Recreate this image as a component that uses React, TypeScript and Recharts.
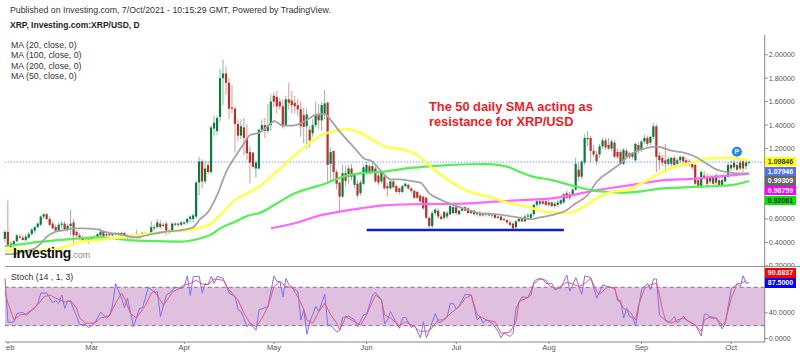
import React from 'react';
import { ComposedChart, Bar, Line, XAxis, YAxis, ReferenceLine, ReferenceArea, ReferenceDot } from 'recharts';

type Ohlc = [number, number, number, number];

// daily candles as open, high, low, close
const febCandles: Ohlc[] = [
  [.43,.50,.40,.49],[.49,.755,.36,.37],[.39,.41,.35,.36],[.37,.42,.35,.41],[.41,.47,.40,.46],[.45,.47,.43,.44],[.44,.46,.42,.42],[.42,.47,.41,.45],
  [.44,.49,.43,.47],[.47,.52,.46,.51],[.50,.54,.48,.53],[.53,.57,.52,.56],[.55,.63,.54,.62],[.62,.65,.60,.64],[.64,.65,.59,.60],[.60,.62,.54,.55],
  [.56,.58,.51,.52],[.53,.55,.49,.50],[.50,.57,.49,.55],[.55,.58,.52,.56],[.56,.58,.50,.51],[.51,.56,.49,.54],[.54,.68,.46,.56],[.57,.60,.37,.46],
  [.49,.50,.44,.46],[.46,.48,.42,.44],[.44,.46,.41,.42],[.42,.44,.40,.41],[.41,.44,.39,.43],
];
const marCandles: Ohlc[] = [
  [.42,.45,.41,.44],[.44,.46,.43,.45],[.44,.48,.43,.47],[.46,.52,.45,.49],[.49,.50,.44,.45],[.46,.48,.45,.47],[.47,.49,.46,.46],[.46,.48,.45,.47],
  [.47,.49,.46,.48],[.48,.49,.46,.47],[.47,.49,.46,.48],[.48,.49,.46,.46],[.46,.47,.43,.44],[.45,.46,.43,.44],[.44,.46,.43,.45],[.45,.51,.43,.44],
  [.44,.47,.43,.46],[.46,.49,.45,.48],[.48,.49,.46,.47],[.47,.48,.46,.47],[.47,.58,.46,.53],[.52,.55,.50,.53],[.53,.60,.52,.57],[.56,.59,.52,.53],
  [.54,.57,.53,.55],[.56,.58,.46,.49],[.49,.52,.47,.50],[.50,.57,.49,.56],[.56,.57,.54,.55],[.55,.57,.53,.56],[.55,.58,.54,.57],
];
const aprCandles: Ohlc[] = [
  [.56,.58,.55,.57],[.57,.61,.55,.60],[.60,.63,.57,.62],[.60,.65,.57,.63],[.62,.93,.60,.91],[.91,1.13,.80,1.09],[1.09,1.11,.86,.92],[.92,1.10,.90,1.03],
  [1.06,1.09,.98,1.00],[1.00,1.40,.98,1.38],[1.37,1.48,1.31,1.42],[1.35,1.48,1.32,1.46],[1.47,1.88,1.43,1.80],[1.80,1.96,1.57,1.84],[1.84,1.90,1.66,1.76],
  [1.76,1.80,1.45,1.54],[1.55,1.74,1.50,1.54],[1.54,1.56,1.17,1.41],[1.41,1.45,1.26,1.31],[1.31,1.45,1.28,1.39],[1.38,1.46,1.145,1.29],[1.29,1.41,1.10,1.16],
  [1.17,1.22,.90,1.08],[1.165,1.17,1.03,1.045],[1.03,1.10,.95,1.08],[1.03,1.37,1.02,1.36],[1.36,1.45,1.34,1.40],[1.40,1.46,1.29,1.35],[1.35,1.58,1.33,1.40],[1.40,1.66,1.35,1.60],
];
const mayCandles: Ohlc[] = [
  [1.65,1.68,1.55,1.60],[1.64,1.69,1.50,1.56],[1.60,1.63,1.53,1.56],[1.56,1.62,1.37,1.39],[1.40,1.65,1.39,1.62],[1.62,1.76,1.53,1.59],[1.61,1.69,1.50,1.57],[1.59,1.65,1.50,1.56],
  [1.57,1.62,1.48,1.535],[1.535,1.60,1.30,1.39],[1.485,1.55,1.245,1.385],[1.39,1.54,1.20,1.49],[1.36,1.39,1.21,1.27],[1.33,1.45,1.30,1.40],[1.40,1.60,1.38,1.485],[1.485,1.58,1.37,1.44],
  [1.44,1.60,1.35,1.57],[1.49,1.70,1.45,1.585],[1.59,1.60,.91,1.06],[1.07,1.21,.92,1.17],[1.18,1.18,.94,1.00],[1.00,1.02,.85,.90],[.91,.92,.65,.79],[.79,1.06,.78,.99],
  [.99,1.05,.88,.925],[.96,1.06,.90,1.03],[1.03,1.07,.93,.96],[.89,.98,.86,.975],[.90,.93,.78,.80],[.82,.93,.80,.91],[.90,1.06,.89,1.04],
];
const junCandles: Ohlc[] = [
  [1.00,1.09,.98,1.06],[1.05,1.07,.98,1.00],[1.00,1.08,.99,1.05],[1.03,1.05,.91,.92],[.97,.99,.89,.91],[.92,1.00,.90,.99],[.96,.98,.85,.86],[.88,.91,.79,.86],
  [.86,.93,.85,.92],[.92,.93,.86,.87],[.88,.89,.82,.83],[.86,.87,.81,.83],[.83,.89,.82,.88],[.88,.91,.87,.90],[.89,.90,.85,.86],[.86,.87,.82,.84],
  [.84,.85,.77,.78],[.83,.84,.77,.78],[.80,.81,.74,.75],[.79,.80,.68,.69],[.78,.79,.60,.61],[.61,.62,.52,.54],[.54,.67,.52,.65],[.65,.69,.63,.68],
  [.67,.69,.60,.62],[.62,.64,.59,.60],[.61,.67,.59,.66],[.65,.67,.60,.62],[.64,.72,.63,.71],[.65,.72,.64,.70],
];
const julCandles: Ohlc[] = [
  [.70,.71,.63,.65],[.64,.68,.63,.67],[.67,.70,.66,.69],[.70,.71,.67,.67],[.69,.70,.64,.65],[.65,.68,.64,.67],[.67,.68,.63,.64],[.64,.66,.62,.65],
  [.65,.67,.62,.63],[.63,.65,.62,.64],[.64,.66,.62,.65],[.64,.66,.62,.63],[.63,.65,.61,.64],[.64,.65,.60,.61],[.61,.63,.60,.62],[.62,.63,.58,.59],
  [.60,.61,.58,.59],[.59,.60,.56,.57],[.57,.59,.54,.55],[.56,.57,.51,.52],[.53,.59,.51,.58],[.58,.62,.57,.60],[.60,.62,.57,.58],[.58,.64,.57,.62],
  [.62,.65,.60,.63],[.61,.65,.59,.64],[.64,.73,.62,.72],[.72,.77,.70,.75],[.73,.77,.71,.75],[.75,.77,.72,.73],[.75,.77,.71,.72],
];
const augCandles: Ohlc[] = [
  [.74,.76,.70,.72],[.71,.75,.70,.74],[.73,.75,.69,.71],[.72,.76,.70,.74],[.73,.77,.72,.76],[.74,.82,.73,.81],[.82,.84,.77,.78],[.81,.83,.76,.78],
  [.81,.86,.80,.85],[.85,1.12,.84,1.07],[1.02,1.08,.92,.96],[.96,1.10,.94,1.09],[1.08,1.32,1.06,1.29],[1.28,1.35,1.22,1.29],[1.29,1.31,1.08,1.18],[1.18,1.23,1.13,1.15],
  [1.15,1.18,1.06,1.09],[1.15,1.24,1.12,1.22],[1.22,1.29,1.20,1.27],[1.27,1.29,1.19,1.21],[1.23,1.29,1.19,1.20],[1.20,1.28,1.18,1.26],[1.25,1.27,1.12,1.13],[1.17,1.20,1.11,1.13],
  [1.17,1.19,1.06,1.07],[1.07,1.20,1.06,1.19],[1.18,1.20,1.12,1.13],[1.13,1.17,1.11,1.16],[1.16,1.17,1.11,1.13],[1.10,1.25,1.09,1.24],[1.23,1.25,1.16,1.18],
];
const sepCandles: Ohlc[] = [
  [1.19,1.27,1.17,1.26],[1.26,1.32,1.24,1.29],[1.29,1.31,1.22,1.24],[1.25,1.31,1.23,1.30],[1.30,1.42,1.28,1.39],[1.39,1.41,1.00,1.13],[1.14,1.17,1.02,1.10],[1.12,1.15,1.05,1.08],
  [1.10,1.24,1.00,1.07],[1.07,1.13,1.05,1.11],[1.07,1.13,1.03,1.12],[1.12,1.14,1.04,1.06],[1.07,1.12,1.05,1.10],[1.10,1.14,1.08,1.13],[1.13,1.14,1.07,1.09],[1.10,1.12,1.05,1.07],
  [1.09,1.11,1.05,1.06],[1.08,1.09,1.02,1.04],[1.06,1.07,.89,.90],[.93,.95,.86,.87],[.87,1.02,.86,1.00],[.97,1.01,.93,.95],[.96,.99,.88,.90],[.92,.98,.90,.95],
  [.95,.97,.89,.90],[.91,.99,.88,.97],[.93,.96,.88,.89],[.89,.96,.88,.93],[.92,.97,.91,.96],[.96,1.08,.95,1.06],
];
const octCandles: Ohlc[] = [
  [1.06,1.10,1.01,1.03],[1.04,1.11,1.02,1.08],[1.06,1.09,1.01,1.02],[1.03,1.11,1.01,1.08],[1.09,1.11,1.00,1.03],[1.05,1.10,1.02,1.08],[1.08,1.10,1.06,1.085],
];

// moving averages as [day, value], day 0 is 1 Feb
const ma20: number[][] = [
  [-1,.30],[2,.30],[5,.32],[9,.349],[11,.392],[13,.448],[16,.491],[19,.505],[22,.519],[25,.519],[30,.511],[32,.491],[35,.477],[40,.454],[43,.443],[48,.471],[53,.491],[60,.514],[62,.528],[64,.59],[67,.661],[70,.804],[73,1.002],[76,1.13],[79,1.244],[81,1.315],[84,1.335],[88,1.415],
  [89,1.435],[92,1.395],[95,1.395],[98,1.415],[100,1.443],[103,1.486],[106,1.495],[108,1.443],[111,1.344],[114,1.259],[117,1.174],[119,1.117],[122,1.088],[124,1.031],[126,.975],[128,.938],[131,.938],[134,.926],[138,.909],[141,.818],[145,.761],[149,.719],[154,.676],[158,.648],[164,.639],[169,.619],[175,.599],
  [178,.613],[182,.633],[187,.676],[190,.733],[194,.804],[197,.917],[202,1.017],[205,1.074],[208,1.145],[212,1.193],[217,1.216],[222,1.182],[227,1.159],[230,1.13],[234,1.068],[237,1.022],[241,.997],[244,.988],[248,.988],
];
const ma50: number[][] = [
  [-1,.33],[9,.33],[15,.335],[23,.397],[35,.434],[44,.463],[53,.491],[62,.511],[68,.562],[71,.633],[76,.761],[80,.818],[84,.875],[88,.96],[96,1.145],[100,1.23],[105,1.316],[110,1.353],[113,1.364],[118,1.335],[122,1.273],[127,1.21],[132,1.193],[137,1.145],[142,1.031],[149,.904],[156,.818],[161,.79],[167,.739],[175,.696],
  [180,.659],[187,.65],[191,.681],[196,.761],[202,.832],[207,.846],[212,.903],[218,.988],[224,1.051],[229,1.079],[235,1.116],[241,1.119],[248,1.102],
];
const ma100: number[][] = [
  [-1,.369],[4,.383],[11,.406],[20,.426],[30,.443],[40,.42],[49,.411],[58,.406],[62,.42],[68,.468],[71,.519],[76,.576],[81,.633],[84,.648],[90,.733],[96,.818],[101,.861],[107,.909],[112,.96],[118,.989],[126,1.003],[131,1.023],[140,1.046],[146,1.057],[154,1.066],[161,1.068],[167,1.046],[171,1.003],[175,.965],
  [182,.931],[188,.889],[195,.846],[200,.832],[206,.823],[212,.835],[219,.86],[225,.866],[231,.875],[239,.883],[244,.897],[248,.923],
];
const ma200: number[][] = [
  [88,.52],[96,.563],[105,.634],[111,.662],[118,.69],[126,.716],[135,.725],[144,.727],[154,.733],[163,.747],[175,.764],[182,.775],[189,.804],[197,.846],[205,.875],[212,.903],[220,.931],[228,.94],[237,.96],[248,.985],
];

// stochastic oscillator as [day, value]
const stochK: number[][] = [
  [-1,94],[0,25],[2,26],[3,39],[5,41],[6,36],[9,48],[10,55],[11,71],[13,71],[14,63],[15,56],[16,59],[17,55],[18,68],[19,47],[20,59],[21,57],[23,34],[24,22],[26,22],[27,17],[29,24],[31,41],[33,32],[34,36],[35,52],[36,86],[38,63],[39,48],[40,63],[42,18.5],[44,47],[45,48],[47,80],[49,72],[50,73],[51,34],[53,68],[54,71],[56,80],[58,78],[59,81],[60,98],[61,67],[62,97],[64,97],[65,71],[66,86],[67,84],[68,97],[69,86],[70,97],[72,94],[74,71],[76,65],[77,45],[78,42],[80,18.5],[81,24],[83,13],[84,45],[86,48],[87,50],
  [89,98],[90,89],[91,89],[92,65],[93,94],[94,84],[97,73],[98,29],[99,45],[100,6.5],[101,26],[103,50],[104,42],[106,69],[107,21],[108,21],[110,10],[111,13],[112,33],[114,35],[116,29],[117,18.5],[119,37],[120,38],[122,68],[123,72],[125,60],[126,23],[127,29],[128,42],[130,24],[131,16],[132,32],[133,33],[135,17],[136,21],[138,1],[139,26],[140,1],[141,13],[143,39],[144,25],[145,26],[147,35],[148,55],[149,55],[150,46],[151,52],[153,69],[155,68],[157,29],[158,34],[159,24],[160,29],[162,24],[164,11],[165,1],[166,9],[168,3],[169,8],[170,47],[172,65],[174,64],[175,68],[176,89],
  [177,93],[179,93],[180,86],[182,86],[183,76],[184,78],[185,79],[187,99],[188,74],[190,95],[192,69],[193,98],[195,95],[197,63],[198,73],[199,84],[201,80],[203,79],[204,59],[205,59],[206,32],[207,47],[208,34],[209,33],[210,20],[212,76],[214,86],[215,76],[216,93],[217,93],[218,37],[219,32],[221,24],[223,34],[224,24],[226,35],[227,29],[229,24],[230,21],[232,4],[233,38],[234,38],[235,32],[237,32],[239,15],[240,24],[242,78],[244,85],[245,81],[246,98],[247,86],[248,87.5],
];
const stochD: number[][] = [
  [-1,73],[0,55],[2,29],[4,37],[6,38],[8,45],[10,53],[12,65],[14,68],[16,63],[19,57],[21,59],[23,47],[24,32],[26,24],[29,24],[31,32],[34,36],[36,55],[38,71],[39,63],[41,39],[43,32],[44,39],[46,52],[48,71],[49,74],[51,60],[52,52],[54,65],[55,73],[57,77],[59,84],[61,86],[63,91],[65,85],[67,84],[69,93],[72,91],[74,76],[77,60],[79,39],[81,24],[83,18.5],[85,32],[87,50],
  [89,81],[91,89],[93,81],[95,80],[97,65],[99,45],[100,29],[102,24],[104,42],[106,55],[108,37],[110,24],[111,13],[113,34],[116,26],[118,21],[120,37],[122,58],[123,68],[125,60],[126,37],[128,32],[131,20],[133,26],[136,18.5],[138,11],[141,12],[144,29],[146,29],[148,39],[151,50],[153,63],[155,68],[157,37],[160,29],[163,26],[165,8],[168,10],[170,26],[171,58],[174,64],[176,86],
  [178,93],[180,91],[181,83],[183,78],[185,81],[187,88],[189,85],[191,81],[193,86],[195,94],[197,73],[198,69],[200,78],[201,81],[203,78],[204,63],[206,47],[208,42],[210,29],[211,52],[213,78],[215,84],[217,86],[218,68],[219,45],[220,29],[222,24],[224,29],[226,32],[228,26],[230,21],[232,11],[233,29],[235,34],[237,32],[239,21],[240,26],[242,63],[244,86],[245,86],[247,90],
];

const monthTicks = [0, 28, 59, 89, 120, 150, 181, 212, 242];
const monthLabels = ['Feb', 'Mar', 'Apr', 'May', 'Jun', 'Jul', 'Aug', 'Sep', 'Oct'];
// 0.8, 1.0 and the stoch 80 sit behind the price tags in the picture
const priceTicks = [0.2, 0.4, 0.6, 1.2, 1.4, 1.6, 1.8, 2.0];
const stochTicks = [0, 40];
const maLegend = ['MA (20, close, 0)', 'MA (100, close, 0)', 'MA (200, close, 0)', 'MA (50, close, 0)'];

const lastPrice = 1.085;
const supportLevel = 0.505;
const supportDays = [120, 186];

const candleRows = [...febCandles, ...marCandles, ...aprCandles, ...mayCandles, ...junCandles, ...julCandles, ...augCandles, ...sepCandles, ...octCandles]
  .map(([o, h, l, c], idx) => ({ day: idx - 1, open: o, high: h, low: l, close: c, range: [l, h] }));

const toPoints = (list: number[][], key: string) => list.map(([day, v]) => ({ day, [key]: v }));

const dayDomain: [number, number] = [-0.84, 253.2];
const GREEN = '#0b7a3e';
const RED = '#b0342a';
const FONT = '"Liberation Sans", Arial, sans-serif';

// wick plus body, the bar itself spans low to high
const Candle = (props: any) => {
  const { x, y, width, height, payload } = props;
  const { open, high, low, close } = payload;
  const cx = x + width / 2;
  const perUnit = height / (high - low || 1);
  const top = y + (high - Math.max(open, close)) * perUnit;
  const bodyH = Math.max(Math.abs(open - close) * perUnit, 1);
  const color = close >= open ? GREEN : RED;
  return (
    <g>
      <line x1={cx} x2={cx} y1={y} y2={y + height} stroke={color} strokeOpacity={0.5} strokeWidth={1} />
      <rect x={cx - 1.1} y={top} width={2.2} height={bodyH} fill={color} />
    </g>
  );
};

const base: React.CSSProperties = { position: 'absolute', fontFamily: FONT, whiteSpace: 'nowrap', lineHeight: 1 };

const priceTags = [
  { text: '1.09846', top: 156.5, bg: '#ffff00', color: '#333' },
  { text: '1.07946', top: 166.5, bg: '#4f74e3', color: '#fff' },
  { text: '0.99309', top: 176, bg: '#666666', color: '#fff' },
  { text: '0.98759', top: 185.7, bg: '#ff00ff', color: '#fff' },
  { text: '0.92061', top: 195.5, bg: '#00e600', color: '#222' },
  { text: '90.6837', top: 268, bg: '#ff0000', color: '#fff' },
  { text: '87.5000', top: 278, bg: '#0000ff', color: '#fff' },
];

export default function App() {
  return (
    <div style={{ position: 'absolute', left: 0, top: 0, width: 800, height: 357, background: '#fff', overflow: 'hidden' }}>
      <div style={{ position: 'absolute', left: 0, top: 0 }}>
        <ComposedChart width={800} height={267} data={candleRows} margin={{ top: 35, right: 0, bottom: 1.16, left: 5 }}>
          <XAxis dataKey="day" type="number" domain={dayDomain} hide />
          <YAxis
            orientation="right"
            width={35.3}
            domain={[0.2, 2.168]}
            ticks={priceTicks}
            interval={0}
            tickFormatter={(v: number) => v.toFixed(5)}
            tick={{ fill: '#555', fontSize: 7.2, fontFamily: FONT }}
            tickSize={3}
            tickMargin={1}
            stroke="#888"
          />
          <ReferenceLine y={lastPrice} stroke="#3f6fe8" strokeDasharray="1 2" />
          <Bar dataKey="range" barSize={3} shape={<Candle />} isAnimationActive={false} />
          <Line data={toPoints(ma200, 'v')} dataKey="v" type="monotone" stroke="#ff66ff" strokeWidth={2.2} dot={false} isAnimationActive={false} />
          <Line data={toPoints(ma100, 'v')} dataKey="v" type="monotone" stroke="#55ee55" strokeWidth={2.2} dot={false} isAnimationActive={false} />
          <Line data={toPoints(ma50, 'v')} dataKey="v" type="monotone" stroke="#ffff4d" strokeWidth={2.6} dot={false} isAnimationActive={false} />
          <Line data={toPoints(ma20, 'v')} dataKey="v" type="monotone" stroke="#a3a3a3" strokeWidth={1.8} dot={false} isAnimationActive={false} />
          <ReferenceLine
            segment={[{ x: supportDays[0], y: supportLevel }, { x: supportDays[1], y: supportLevel }]}
            stroke="#0a1fd0"
            strokeWidth={2.4}
          />
          <ReferenceDot
            x={243.9}
            y={1.173}
            r={5}
            fill="#1e88e5"
            stroke="none"
            label={{ value: 'P', position: 'center', fill: '#fff', fontSize: 7, fontWeight: 700, fontFamily: FONT }}
          />
        </ComposedChart>
      </div>

      <div style={{ position: 'absolute', left: 0, top: 266 }}>
        <ComposedChart width={800} height={91} data={candleRows} margin={{ top: 1, right: 0, bottom: 0, left: 5 }}>
          <XAxis
            dataKey="day"
            type="number"
            domain={dayDomain}
            ticks={monthTicks}
            interval={0}
            tickFormatter={(d: number) => monthLabels[monthTicks.indexOf(d)]}
            tick={{ fill: '#555', fontSize: 7.5, fontFamily: FONT }}
            tickSize={2}
            tickMargin={1}
            height={15}
            stroke="#888"
          />
          <YAxis
            orientation="right"
            width={35.3}
            domain={[-5.47, 111.7]}
            ticks={stochTicks}
            interval={0}
            tickFormatter={(v: number) => v.toFixed(4)}
            tick={{ fill: '#555', fontSize: 7.2, fontFamily: FONT }}
            tickSize={3}
            tickMargin={1}
            stroke="#888"
          />
          <ReferenceArea y1={20} y2={80} fill="#dfc1df" fillOpacity={1} stroke="none" />
          <ReferenceLine y={80} stroke="#8d6d8d" strokeDasharray="4 3" />
          <ReferenceLine y={20} stroke="#8d6d8d" strokeDasharray="4 3" />
          <Line data={toPoints(stochK, 'k')} dataKey="k" type="linear" stroke="#7a72f5" strokeWidth={1} dot={false} isAnimationActive={false} />
          <Line data={toPoints(stochD, 'd')} dataKey="d" type="linear" stroke="#f0566e" strokeWidth={1} dot={false} isAnimationActive={false} />
        </ComposedChart>
      </div>

      {/* pane divider and the clipped left end of the date row */}
      <div style={{ position: 'absolute', left: 5, top: 266, width: 795, height: 1, background: '#999' }} />
      <div style={{ position: 'absolute', left: 0, top: 343, width: 5.5, height: 14, background: '#fff' }} />

      <div style={{ ...base, left: 10, top: 6.3, fontSize: 8.75, color: '#333' }}>Published on Investing.com, 7/Oct/2021 - 10:15:29 GMT, Powered by TradingView.</div>
      <div style={{ ...base, left: 10, top: 20.6, fontSize: 8.5, fontWeight: 700, color: '#222' }}>XRP, Investing.com:XRP/USD, D</div>
      {maLegend.map((t, i) => (
        <div key={t} style={{ ...base, left: 11, top: 41 + i * 10.4, fontSize: 8.75, color: '#333' }}>{t}</div>
      ))}
      <div style={{ ...base, left: 11, top: 272.6, fontSize: 8.75, color: '#333' }}>Stoch (14 , 1, 3)</div>
      <div style={{ ...base, left: 429, top: 99, fontSize: 12.8, fontWeight: 700, color: '#ee1c25', lineHeight: '15px' }}>
        The 50 daily SMA acting as<br />resistance for XRP/USD
      </div>
      <div style={{ ...base, left: 13, top: 245.5, fontSize: 14, fontWeight: 700, letterSpacing: -0.4, color: '#111' }}>
        Investing<span style={{ fontSize: 9, fontWeight: 400, letterSpacing: 0, color: '#888' }}>.com</span>
      </div>
      {priceTags.map((t) => (
        <div key={t.text} style={{ ...base, left: 765, top: t.top, width: 31, height: 9.6, background: t.bg, color: t.color, fontSize: 7, fontWeight: 700, lineHeight: '10px', textAlign: 'center' }}>{t.text}</div>
      ))}
    </div>
  );
}
